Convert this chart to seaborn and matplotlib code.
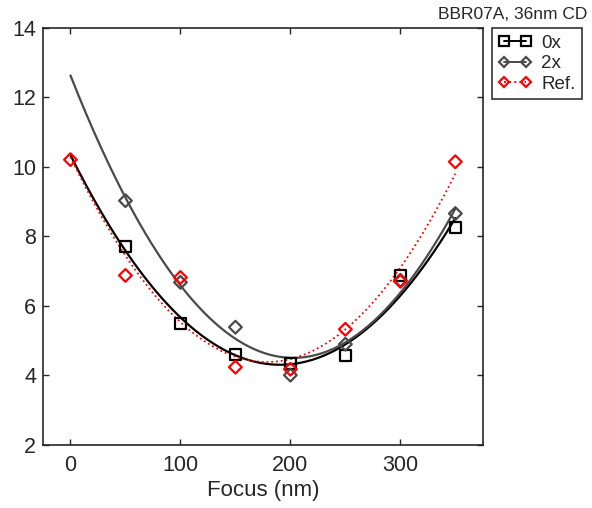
import numpy as np
import pandas as pd
import matplotlib.pyplot as plt
import matplotlib.lines as mlines
import seaborn as sns

focus_0x = [50, 100, 150, 200, 250, 300, 350]
cd_0x = [7.71, 5.50, 4.61, 4.35, 4.58, 6.88, 8.26]

focus_2x = [50, 100, 150, 200, 250, 300, 350]
cd_2x = [9.03, 6.68, 5.39, 4.01, 4.90, 6.74, 8.66]

focus_ref = [0, 50, 100, 150, 200, 250, 300, 350]
cd_ref = [10.21, 6.88, 6.82, 4.24, 4.18, 5.33, 6.71, 10.15]

x_ticks = [0, 100, 200, 300]
y_ticks = [2, 4, 6, 8, 10, 12, 14]

sns.set_style("ticks")
plt.rcParams['font.family'] = ['Liberation Sans', 'DejaVu Sans']

fig = plt.figure(figsize=(5.92, 5.08), dpi=100)
ax = fig.add_axes([0.0726, 0.124, 0.743, 0.821])

series = [
    ('0x', focus_0x, cd_0x, 'black', 's', '-', 1.6, 64),
    ('2x', focus_2x, cd_2x, '#4a4a4a', 'D', '-', 1.6, 42),
    ('Ref.', focus_ref, cd_ref, 'red', 'D', ':', 1.3, 42),
]

handles = []
xs = np.linspace(0, 350, 200)
for name, fx, fy, color, marker, ls, lw, size in series:
    # quadratic trend line through each series
    coef = np.polyfit(fx, fy, 2)
    fit = pd.DataFrame({'x': xs, 'y': np.polyval(coef, xs)})
    sns.lineplot(data=fit, x='x', y='y', color=color, linestyle=ls, linewidth=lw, ax=ax)
    pts = pd.DataFrame({'x': fx, 'y': fy})
    sns.scatterplot(data=pts, x='x', y='y', marker=marker, s=size, facecolor='none',
                    edgecolor=color, linewidth=1.6, ax=ax, zorder=3)
    handles.append(mlines.Line2D([], [], color=color, linestyle=ls, linewidth=1.4,
                                 marker=marker, markersize=7 if marker == 's' else 5.5,
                                 markerfacecolor='none', markeredgewidth=1.6, label=name))

ax.set_xlim(-25, 375)
ax.set_ylim(2, 14)
ax.set_xticks(x_ticks)
ax.set_yticks(y_ticks)
ax.tick_params(direction='in', top=True, right=True, labelsize=15.5, length=4, width=1)
ax.tick_params(axis='x', pad=7)
ax.tick_params(axis='y', pad=5)
for sp in ax.spines.values():
    sp.set_linewidth(1.2)
ax.set_xlabel('Focus (nm)', fontsize=16, labelpad=3)
ax.set_ylabel('')

fig.text(0.993, 0.957, 'BBR07A, 36nm CD', ha='right', va='bottom', fontsize=12.5)

leg = ax.legend(handles=handles, loc='upper left', bbox_to_anchor=(1.02, 1.0), numpoints=2,
                frameon=True, fancybox=False, fontsize=13.5, handlelength=1.8,
                borderaxespad=0, borderpad=0.35, labelspacing=0.18, handletextpad=0.5)
leg.get_frame().set_edgecolor('black')
leg.get_frame().set_linewidth(1.2)

fig.savefig('out.png', dpi=100)
